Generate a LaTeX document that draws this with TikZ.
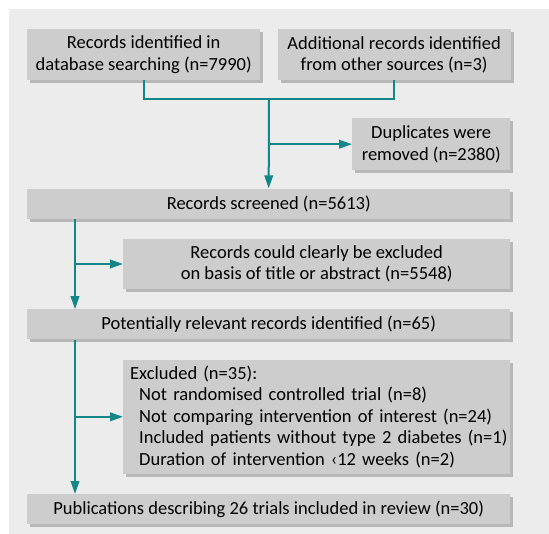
\documentclass[tikz,border=0pt]{standalone}
\usepackage{fontspec}
\setmainfont{Carlito}
\usetikzlibrary{arrows.meta, positioning, calc, shadows}

\definecolor{panelgray}{RGB}{236,236,236}
\definecolor{boxgray}{RGB}{205,205,205}
\definecolor{shadowgray}{RGB}{184,184,184}
\definecolor{flowteal}{RGB}{18,134,136}

\begin{document}
\begin{tikzpicture}[font=\fontsize{18.5}{21.5}\selectfont,
    box/.style={fill=boxgray, inner sep=0pt, align=center, anchor=north west,
        drop shadow={shadow xshift=3pt, shadow yshift=-3pt, fill=shadowgray, opacity=1}},
    wide/.style={minimum width=483pt, minimum height=30pt},
    link/.style={draw=flowteal, line width=2pt},
    flow/.style={link, -{Triangle[length=13pt, width=8.5pt]}}]
        % Panel behind the flowchart
        \useasboundingbox (0,0) rectangle (549pt,-534pt);
        \fill[panelgray] (9pt,-9pt) rectangle (549pt,-534pt);

        \node[box, minimum width=233pt, minimum height=51pt] (recdb) at (27pt,-29pt) {Records identified in\\database searching (n=7990)};
        \node[box, minimum width=233pt, minimum height=51pt, right=17pt of recdb] (addrec) {Additional records identified\\from other sources (n=3)};
        \node[box, wide, below=108pt of recdb.south west, anchor=north west] (screened) {Records screened (n=5613)};
        \node[box, minimum width=158pt, minimum height=52pt, above=18pt of screened.north east, anchor=south east] (dupl) {Duplicates were\\removed (n=2380)};
        \node[box, minimum width=387pt, minimum height=50pt, below=20pt of screened.south east, anchor=north east] (clearexcl) {Records could clearly be excluded\\on basis of title or abstract (n=5548)};
        \node[box, wide, below=20pt of clearexcl.south east, anchor=north east] (relevant) {Potentially relevant records identified (n=65)};
        \node[box, minimum width=387pt, minimum height=114pt, text width=384pt, inner xsep=1.5pt, align=left, below=20pt of relevant.south east, anchor=north east] (excluded) {\hspace*{5.5pt}Excluded (n=35):\\
            \hspace*{14.5pt}Not randomised controlled trial (n=8)\\
            \hspace*{14.5pt}Not comparing intervention of interest (n=24)\\
            \hspace*{14.5pt}Included patients without type 2 diabetes (n=1)\\
            \hspace*{14.5pt}Duration of intervention ‹12 weeks (n=2)};
        \node[box, wide, below=20pt of excluded.south east, anchor=north east] (pubs) {Publications describing 26 trials included in review (n=30)};

        % Connectors
        \coordinate (merge) at ($(recdb.south)!0.5!(addrec.south)+(0,-19pt)$);
        \coordinate (trunk) at ([xshift=48pt]screened.south west);
        \coordinate (trunkb) at ([xshift=48pt]relevant.south west);
        \draw[link] (recdb.south) |- (merge) -| (addrec.south);
        \draw[flow] (merge) -- (screened.north);
        \draw[flow] (merge |- dupl.west) -- (dupl.west);
        \draw[flow] (trunk) -- (trunk |- relevant.north);
        \draw[flow] (trunk |- clearexcl.west) -- (clearexcl.west);
        \draw[flow] (trunkb) -- (trunkb |- pubs.north);
        \draw[flow] (trunkb |- excluded.west) -- (excluded.west);
    \end{tikzpicture}
\end{document}
